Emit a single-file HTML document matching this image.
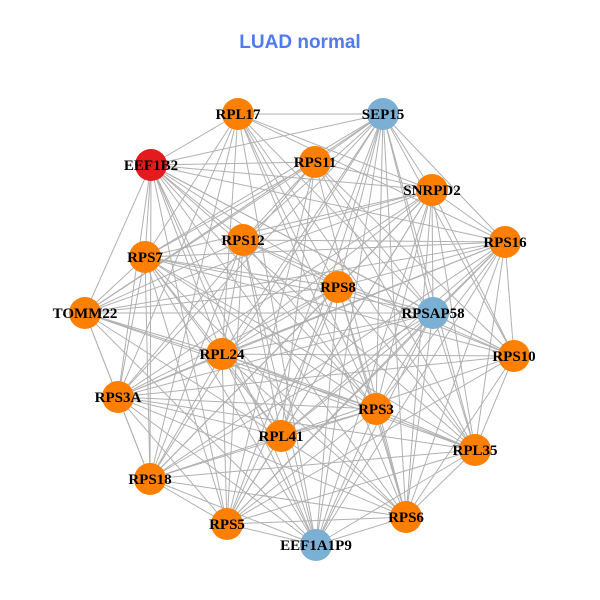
<!DOCTYPE html>
<html><head><meta charset="utf-8"><style>
html,body{margin:0;padding:0;background:#fff;width:600px;height:600px;overflow:hidden}
svg text.l{font-family:"Liberation Serif",serif;font-weight:bold;font-size:15px;fill:#000}
</style></head><body>
<svg id="s" width="600" height="600" xmlns="http://www.w3.org/2000/svg">
<rect width="600" height="600" fill="#fff"/>
<text x="300" y="48" text-anchor="middle" font-family="Liberation Sans,sans-serif" font-weight="bold" font-size="19" fill="#4F7BF0">LUAD normal</text>
<g id="e" stroke="#b0b0b0" stroke-width="1"></g>
<g id="n"></g>
</svg>
<script>
var N=[["RPL17",238,114,"o"],["SEP15",383,114,"b"],["EEF1B2",151,165,"r"],["RPS11",315,162,"o"],["SNRPD2",432,190,"o"],["RPS16",505,242,"o"],["RPS12",243,240,"o"],["RPS7",145,257,"o"],["RPS8",338,287,"o"],["TOMM22",85,313,"o"],["RPSAP58",433,313,"b"],["RPL24",222,354,"o"],["RPS10",514,356,"o"],["RPS3A",118,397,"o"],["RPS3",376,409,"o"],["RPL41",281,436,"o"],["RPL35",475,450,"o"],["RPS18",150,479,"o"],["RPS5",227,524,"o"],["RPS6",406,517,"o"],["EEF1A1P9",316,545,"b"]];
var C={o:"#FF7F00",b:"#7BAFD4",r:"#E41A1C"};
var ns="http://www.w3.org/2000/svg",e=document.getElementById("e"),g=document.getElementById("n");
for(var i=0;i<N.length;i++)for(var j=i+1;j<N.length;j++){
 if((i*7+j*3)%9==0)continue;
 var l=document.createElementNS(ns,"line");
 l.setAttribute("x1",N[i][1]);l.setAttribute("y1",N[i][2]);l.setAttribute("x2",N[j][1]);l.setAttribute("y2",N[j][2]);e.appendChild(l);}
N.forEach(function(a){var c=document.createElementNS(ns,"circle");c.setAttribute("cx",a[1]);c.setAttribute("cy",a[2]);c.setAttribute("r",16);c.setAttribute("fill",C[a[3]]);g.appendChild(c);});
N.forEach(function(a){var t=document.createElementNS(ns,"text");t.setAttribute("x",a[1]);t.setAttribute("y",a[2]+5);t.setAttribute("text-anchor","middle");t.setAttribute("class","l");t.textContent=a[0];g.appendChild(t);});
</script>
</body></html>
